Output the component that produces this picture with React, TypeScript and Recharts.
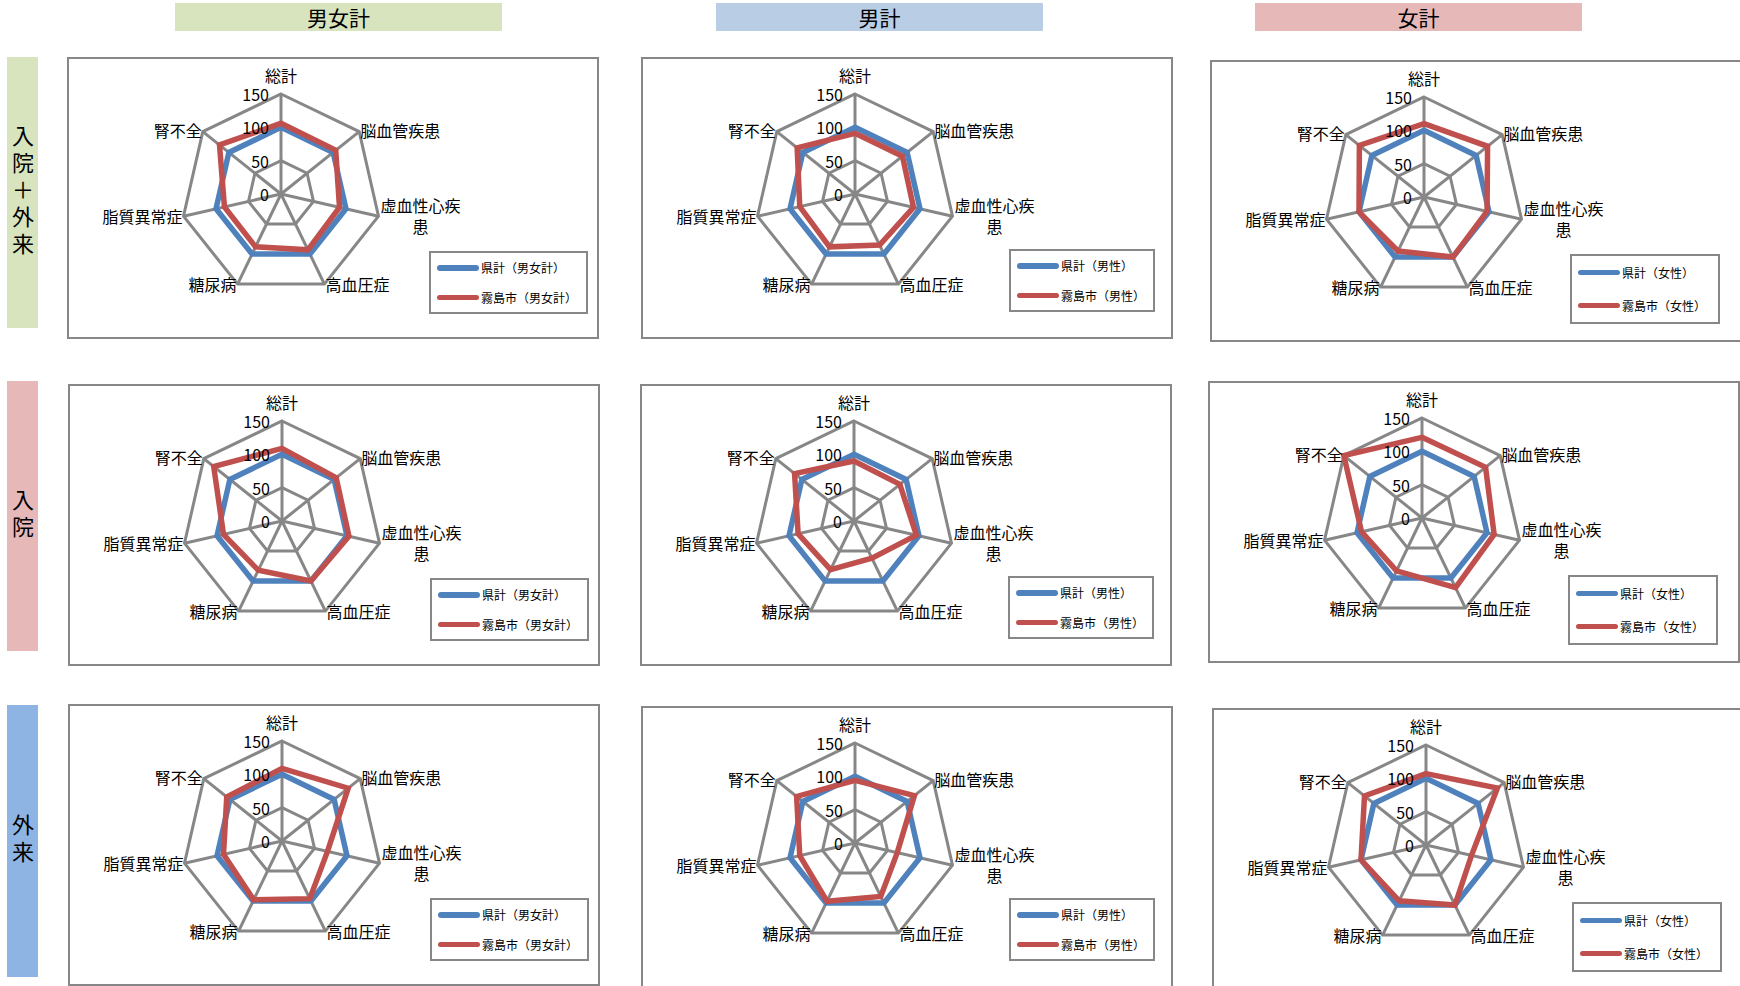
import { RadarChart, Radar, PolarGrid, PolarAngleAxis, PolarRadiusAxis } from "recharts";

const categories = ["総計", "脳血管疾患", "虚血性心疾患", "高血圧症", "糖尿病", "脂質異常症", "腎不全"];

// 県計 is the reference (=100) on every axis
const prefValues = [100, 100, 100, 100, 100, 100, 100];

// 霧島市
const allBoth = [106, 105, 90, 93, 88, 87, 118];
const allMale = [91, 91, 90, 85, 88, 85, 111];
const allFemale = [110, 122, 97, 100, 90, 100, 124];
const inBoth = [109, 104, 103, 100, 82, 90, 131];
const inMale = [90, 88, 96, 62, 81, 86, 114];
const inFemale = [121, 122, 111, 116, 88, 93, 150];
const outBoth = [109, 127, 70, 96, 98, 90, 106];
const outMale = [94, 114, 65, 89, 97, 85, 112];
const outFemale = [107, 137, 70, 100, 93, 100, 118];

const colHeaders = ["男女計", "男計", "女計"];
const rowHeaders = ["入院＋外来", "入院", "外来"];
const legendSuffix = ["男女計", "男性", "女性"];

const FONT = '"Noto Sans CJK JP", "Noto Sans", sans-serif';
const GRID = "#878787";
const BLUE = "#4F81BD";
const RED = "#C0504D";

const PW = 528;
const PH = 278;
const CX = 212;
const CY = 135;
const R = 100;

function vertex(i: number) {
  const a = ((90 - (i * 360) / 7) * Math.PI) / 180;
  return { x: CX + R * Math.cos(a), y: CY - R * Math.sin(a) };
}

const labelStyle = { fontFamily: FONT, fontSize: 16, fill: "#000" };

function AngleTick(props: any) {
  const { index, payload } = props;
  const v = vertex(index);
  if (index === 0) {
    return (
      <text x={v.x} y={v.y - 19} textAnchor="middle" dominantBaseline="central" style={labelStyle}>
        {payload.value}
      </text>
    );
  }
  if (index === 2) {
    return (
      <g>
        <text x={v.x + 42} y={v.y - 11} textAnchor="middle" dominantBaseline="central" style={labelStyle}>
          虚血性心疾
        </text>
        <text x={v.x + 42} y={v.y + 10} textAnchor="middle" dominantBaseline="central" style={labelStyle}>
          患
        </text>
      </g>
    );
  }
  const right = index < 4;
  const dy = index === 1 || index === 6 ? -2 : 0;
  return (
    <text
      x={v.x + (right ? 1 : -1)}
      y={v.y + dy}
      textAnchor={right ? "start" : "end"}
      dominantBaseline="central"
      style={labelStyle}
    >
      {payload.value}
    </text>
  );
}

function RadiusTick(props: any) {
  const { x, y, payload } = props;
  return (
    <text x={x - 12} y={y} textAnchor="end" dominantBaseline="central" style={labelStyle}>
      {payload.value}
    </text>
  );
}

interface PanelProps {
  left: number;
  top: number;
  city: number[];
  suffix: string;
  legend: { left: number; top: number; width: number; height: number };
}

function Panel({ left, top, city, suffix, legend }: PanelProps) {
  const data = categories.map((name, i) => ({ name, pref: prefValues[i], city: city[i] }));
  const items = [
    { label: `県計（${suffix}）`, color: BLUE },
    { label: `霧島市（${suffix}）`, color: RED },
  ];
  return (
    <div
      style={{
        position: "absolute",
        left,
        top,
        width: PW,
        height: PH,
        border: `2px solid ${GRID}`,
        background: "#fff",
      }}
    >
      <RadarChart width={PW} height={PH} data={data} cx={CX} cy={CY} outerRadius={R} margin={{ top: 0, right: 0, bottom: 0, left: 0 }}>
        <PolarGrid gridType="polygon" stroke={GRID} strokeWidth={3} />
        <PolarAngleAxis dataKey="name" tick={AngleTick} axisLine={false} tickLine={false} />
        <PolarRadiusAxis angle={90} domain={[0, 150]} tickCount={4} axisLine={false} tickLine={false} tick={RadiusTick} />
        <Radar dataKey="pref" stroke={BLUE} strokeWidth={5.5} fill="none" fillOpacity={0} dot={false} isAnimationActive={false} />
        <Radar dataKey="city" stroke={RED} strokeWidth={5.5} fill="none" fillOpacity={0} dot={false} isAnimationActive={false} />
      </RadarChart>
      <div
        style={{
          position: "absolute",
          left: legend.left,
          top: legend.top,
          width: legend.width,
          height: legend.height,
          border: `2.5px solid ${GRID}`,
          boxSizing: "border-box",
          background: "#fff",
          display: "flex",
          flexDirection: "column",
          justifyContent: "space-around",
          paddingLeft: 6,
        }}
      >
        {items.map((it) => (
          <div key={it.label} style={{ display: "flex", alignItems: "center", fontFamily: FONT, fontSize: 12, color: "#000" }}>
            <span style={{ display: "inline-block", width: 42, height: 5.5, borderRadius: 3, background: it.color, marginRight: 2 }} />
            {it.label}
          </div>
        ))}
      </div>
    </div>
  );
}

const headerColors = ["#D7E4BD", "#B9CDE5", "#E6B9B8"];
const rowColors = ["#D7E4BD", "#E6B9B8", "#8EB4E3"];

const headerBoxes = [175, 716, 1255];
const rowBoxes = [
  { top: 57, height: 271 },
  { top: 381, height: 270 },
  { top: 705, height: 272 },
];

const panelPos = [
  [{ left: 67, top: 57 }, { left: 641, top: 57 }, { left: 1210, top: 60 }],
  [{ left: 68, top: 384 }, { left: 640, top: 384 }, { left: 1208, top: 381 }],
  [{ left: 68, top: 704 }, { left: 641, top: 706 }, { left: 1212, top: 708 }],
];

const cityRows = [
  [allBoth, allMale, allFemale],
  [inBoth, inMale, inFemale],
  [outBoth, outMale, outFemale],
];

const legendBoxes = [
  { left: 360, top: 192, width: 159, height: 63 },
  { left: 366, top: 190, width: 146, height: 63 },
  { left: 358, top: 192, width: 150, height: 70 },
];

export default function App() {
  return (
    <div
      style={{
        position: "fixed",
        left: 0,
        top: 0,
        width: 1740,
        height: 986,
        overflow: "hidden",
        background: "#fff",
        fontFamily: FONT,
      }}
    >
      {colHeaders.map((h, i) => (
        <div
          key={h}
          style={{
            position: "absolute",
            left: headerBoxes[i],
            top: 3,
            width: 327,
            height: 28,
            background: headerColors[i],
            display: "flex",
            alignItems: "center",
            justifyContent: "center",
            fontSize: 21,
            color: "#000",
          }}
        >
          {h}
        </div>
      ))}
      {rowHeaders.map((h, i) => (
        <div
          key={h}
          style={{
            position: "absolute",
            left: 7,
            top: rowBoxes[i].top,
            width: 31,
            height: rowBoxes[i].height,
            background: rowColors[i],
            display: "flex",
            alignItems: "center",
            justifyContent: "center",
          }}
        >
          <span
            style={{
              writingMode: "vertical-rl",
              fontSize: 22,
              letterSpacing: 5,
              lineHeight: "31px",
              color: "#000",
            }}
          >
            {h}
          </span>
        </div>
      ))}
      {panelPos.map((row, r) =>
        row.map((p, c) => (
          <Panel
            key={`${r}-${c}`}
            left={p.left}
            top={p.top}
            city={cityRows[r][c]}
            suffix={legendSuffix[c]}
            legend={legendBoxes[c]}
          />
        ))
      )}
    </div>
  );
}
